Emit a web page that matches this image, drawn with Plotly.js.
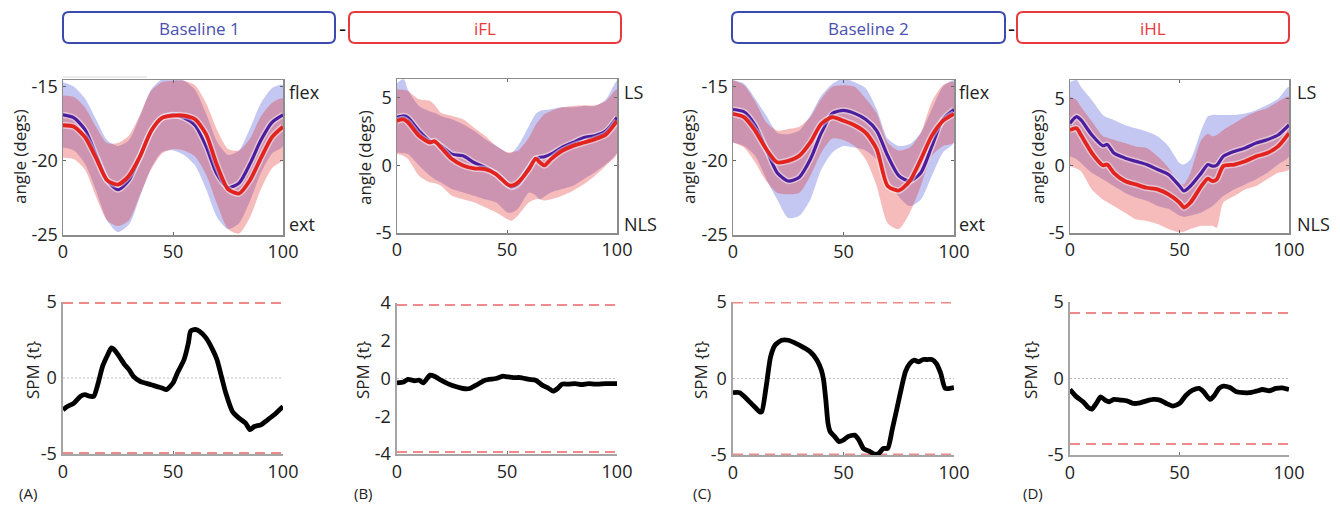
<!DOCTYPE html>
<html><head><meta charset="utf-8">
<script src="https://cdn.plot.ly/plotly-3.0.1.min.js"></script>
<style>html,body{margin:0;padding:0;background:#fff}#chart{width:1340px;height:506px}</style>
</head><body><div id="chart"></div>
<script>
const W = 1340, H = 506;

// ---------- DATA ----------
// Panel A (Baseline 1 vs iFL) knee angle, % gait cycle
const xA = [0,5,10,15,20,25,30,35,40,45,50,55,60,65,70,75,80,85,90,95,100];
const aBlueMean = [-16.9,-17.1,-17.9,-19.6,-21.3,-21.95,-21.3,-19.7,-18.0,-17.1,-16.9,-17.1,-17.6,-19.0,-20.9,-21.8,-21.5,-20.2,-18.6,-17.4,-16.9];
const aRedMean  = [-17.6,-17.7,-18.4,-19.8,-21.3,-21.6,-21.0,-19.7,-18.0,-17.1,-16.95,-16.95,-17.2,-18.2,-20.3,-21.9,-22.2,-21.3,-19.8,-18.4,-17.7];
const aBlueUp   = [-14.7,-15.0,-15.8,-17.2,-18.6,-19.0,-18.6,-17.0,-15.2,-14.5,-14.4,-14.6,-15.2,-16.8,-18.7,-19.6,-19.3,-17.8,-16.1,-15.1,-14.9];
const aBlueLo   = [-19.1,-19.3,-20.2,-22.0,-24.0,-24.8,-24.3,-22.4,-20.5,-19.4,-19.3,-19.6,-20.3,-21.9,-23.8,-24.6,-24.2,-22.7,-20.8,-19.5,-19.0];
const aRedUp    = [-15.6,-15.7,-16.4,-17.7,-18.8,-18.8,-18.3,-16.9,-15.3,-14.7,-14.6,-14.6,-14.9,-16.1,-17.9,-19.2,-19.3,-18.5,-17.0,-16.1,-15.8];
const aRedLo    = [-19.8,-19.9,-20.6,-22.4,-24.0,-24.4,-24.0,-22.3,-20.6,-19.5,-19.2,-19.3,-19.7,-20.9,-22.9,-24.6,-24.9,-23.8,-21.9,-20.5,-19.9];

// Panel B (Baseline 1 vs iFL)
const xB = [0,3,5,10,15,17,20,25,30,35,40,45,50,52,55,60,63,65,67,70,75,80,85,90,95,100];
const bBlueMean = [3.55,3.67,3.55,2.56,1.8,1.75,1.45,0.84,0.71,0.22,-0.15,-0.64,-1.38,-1.6,-1.38,-0.15,0.47,0.6,0.65,0.84,1.33,1.7,2.07,2.2,2.56,3.55];
const bRedMean  = [3.3,3.42,3.2,2.2,1.7,1.8,1.33,0.47,0.0,-0.22,-0.27,-0.64,-1.38,-1.5,-1.26,-0.27,0.5,0.22,0.0,0.47,1.08,1.45,1.7,1.95,2.3,3.3];
const bBlueUp   = [6.1,6.4,5.6,4.4,4.0,3.9,3.67,3.42,3.05,2.56,1.95,1.45,0.96,0.9,1.45,2.93,3.8,4.04,4.1,4.16,4.3,4.3,4.4,4.4,4.9,6.26];
const bBlueLo   = [0.96,0.9,0.84,0.0,-0.76,-1.0,-1.26,-1.75,-2.0,-2.24,-2.5,-2.73,-3.47,-3.5,-3.2,-2.0,-2.2,-2.5,-2.3,-2.0,-1.75,-1.5,-1.0,-0.5,0.1,0.96];
const bRedUp    = [5.64,5.6,5.5,4.9,4.78,4.5,3.9,3.67,3.42,2.8,2.2,1.45,0.96,1.0,1.08,2.07,3.0,3.42,3.8,4.04,4.3,4.4,4.46,4.46,4.78,5.64];
const bRedLo    = [0.84,0.7,0.47,-0.76,-1.26,-1.3,-1.5,-2.24,-2.5,-2.73,-3.1,-3.47,-3.97,-4.1,-3.7,-2.73,-2.5,-2.5,-2.6,-2.5,-2.24,-1.87,-1.38,-0.76,0.0,0.84];

// Panel C (Baseline 2 vs iHL)
const xC = [0,5,10,15,20,25,30,35,40,45,50,55,60,65,70,75,80,85,90,95,100];
const cBlueMean = [-16.54,-16.7,-17.6,-19.2,-20.8,-21.36,-21.1,-19.9,-18.1,-16.8,-16.6,-16.8,-17.2,-17.96,-19.66,-21.0,-21.36,-20.8,-19.0,-17.2,-16.54];
const cRedMean  = [-16.83,-17.05,-17.96,-19.2,-20.1,-20.0,-19.66,-18.76,-17.5,-17.05,-17.3,-17.6,-18.1,-19.2,-21.7,-22.0,-21.36,-19.9,-18.3,-17.3,-16.83];
const cBlueUp   = [-14.57,-14.8,-15.8,-16.95,-18.1,-18.2,-17.96,-16.95,-15.6,-14.8,-14.45,-14.7,-15.1,-16.5,-18.5,-19.0,-18.87,-18.1,-16.5,-15.0,-14.57];
const cBlueLo   = [-18.76,-19.0,-19.66,-21.2,-22.6,-23.85,-23.7,-22.6,-20.57,-19.43,-19.0,-19.1,-19.3,-19.9,-21.2,-22.4,-23.05,-22.6,-21.0,-19.43,-18.76];
const cRedUp    = [-14.57,-14.9,-16.0,-17.4,-17.96,-17.85,-17.7,-17.05,-15.8,-15.0,-14.9,-15.0,-15.8,-16.8,-18.76,-19.3,-19.1,-18.1,-16.0,-14.9,-14.7];
const cRedLo    = [-18.76,-19.1,-20.1,-21.36,-22.15,-22.26,-22.15,-21.0,-19.43,-18.5,-18.6,-19.0,-19.9,-21.7,-24.2,-24.6,-23.5,-21.7,-19.66,-19.0,-18.76];

// Panel D (Baseline 2 vs iHL)
const xD = [0,3,5,10,15,17,20,25,30,35,40,45,50,52,55,60,63,65,67,70,75,80,85,90,95,100];
const dBlueMean = [3.18,3.67,3.42,2.3,1.5,1.6,0.96,0.59,0.34,0.1,-0.27,-0.64,-1.5,-1.87,-1.5,-0.52,0.1,-0.02,0.05,0.71,1.08,1.33,1.7,1.95,2.3,3.05];
const dRedMean  = [2.68,2.8,2.3,0.96,0.05,0.1,-0.52,-1.13,-1.38,-1.63,-1.75,-2.12,-2.73,-3.1,-2.73,-1.5,-0.95,-1.13,-1.0,-0.02,0.1,0.34,0.71,0.96,1.45,2.44];
const dBlueUp   = [6.26,6.4,5.9,4.9,3.8,3.6,3.42,3.05,2.8,2.56,2.2,1.45,0.22,0.1,0.47,2.68,3.7,3.8,3.8,3.8,3.8,3.9,4.16,4.53,5.0,5.9];
const dBlueLo   = [0.71,0.5,0.22,-0.52,-1.0,-1.2,-1.5,-2.0,-2.36,-2.6,-2.98,-3.2,-3.7,-3.8,-3.7,-3.47,-3.2,-2.98,-2.7,-2.24,-1.75,-1.38,-1.0,-0.52,0.1,0.71];
const dRedUp    = [5.15,4.9,4.4,3.3,2.2,2.1,1.95,1.7,1.45,1.33,0.71,-0.15,-1.26,-1.38,-0.52,1.95,2.4,2.2,2.3,2.68,3.18,3.67,4.04,4.3,4.78,5.15];
const dRedLo    = [0.0,-0.2,-0.4,-1.75,-2.5,-2.7,-2.98,-3.47,-3.97,-4.1,-4.33,-4.7,-4.95,-4.9,-4.7,-4.46,-4.46,-4.46,-4.6,-2.73,-2.24,-1.75,-1.5,-1.0,-0.52,-0.27];

// SPM{t} curves
const xSpmA = [0,2,5,8,10,12,14,16,18,20,22,23,25,28,30,32,35,40,45,47,50,52,55,57,58,60,62,65,68,70,72,74,77,80,83,85,87,90,93,96,100];
const spmA  = [-2.09,-1.87,-1.65,-1.2,-1.1,-1.2,-1.2,-0.33,0.77,1.43,1.98,1.9,1.54,0.88,0.55,0.11,-0.22,-0.44,-0.66,-0.77,-0.33,0.33,1.2,2.3,3.08,3.19,3.08,2.64,1.87,1.2,0.11,-0.99,-2.2,-2.64,-2.97,-3.4,-3.19,-3.08,-2.75,-2.42,-1.87];
const xSpmB = [0,3,5,8,10,12,15,17,20,23,27,30,33,36,40,45,48,50,53,56,60,63,66,69,71,73,75,78,81,84,87,90,95,100];
const spmB  = [-0.23,-0.18,-0.05,-0.12,-0.09,-0.23,0.18,0.12,-0.09,-0.27,-0.44,-0.53,-0.53,-0.35,-0.09,0,0.12,0.09,0.05,0.05,-0.05,-0.09,-0.35,-0.53,-0.67,-0.53,-0.3,-0.3,-0.27,-0.32,-0.27,-0.3,-0.27,-0.27];
const xSpmC = [0,3,6,9,12,13,15,17,19,22,25,28,32,35,38,40,41,42,43,44,46,48,50,52,55,57,59,62,64,66,68,70,72,74,76,78,80,82,84,86,88,90,92,94,96,98,100];
const spmC  = [-0.93,-0.93,-1.3,-1.74,-2.17,-2.17,-0.54,1.41,2.17,2.5,2.5,2.33,2.02,1.74,1.2,0.54,-0.11,-1.41,-2.93,-3.48,-3.8,-4.13,-4.02,-3.8,-3.7,-4.02,-4.57,-4.78,-4.95,-4.89,-4.57,-4.57,-3.37,-2.07,-0.76,0.43,0.98,1.2,1.09,1.24,1.24,1.24,0.98,0.33,-0.65,-0.65,-0.6];
const xSpmD = [0,3,6,8,10,12,14,16,18,20,23,26,29,32,35,38,41,44,47,50,53,56,59,61,64,66,68,70,73,76,79,82,85,88,91,94,97,100];
const spmD  = [-0.72,-1.2,-1.52,-1.85,-2.0,-1.63,-1.2,-1.41,-1.52,-1.37,-1.41,-1.46,-1.63,-1.59,-1.46,-1.37,-1.41,-1.63,-1.8,-1.63,-1.09,-0.76,-0.65,-0.87,-1.37,-1.09,-0.65,-0.5,-0.59,-0.87,-0.93,-0.93,-0.83,-0.72,-0.8,-0.65,-0.61,-0.72];

// critical thresholds
const thrA = 4.93, thrB = 3.89, thrC = 4.97, thrD = 4.28;

// tick labels
const xTicks = [0,50,100];
const xTickText = ['0','50','100'];
const kneeTicks = [-25,-20,-15];
const kneeTickText = ['-25','-20','-15'];
const pelTicks = [-5,0,5];
const pelTickText = ['-5','0','5'];
const spmTicks5 = [-5,0,5];
const spmTickText5 = ['-5','0','5'];
const spmTicks4 = [-4,-2,0,2,4];
const spmTickText4 = ['-4','-2','0','2','4'];

const headers = ['Baseline 1','iFL','Baseline 2','iHL'];
const panelLabels = ['(A)','(B)','(C)','(D)'];

// ---------- STYLE ----------
const BLUE_BAND = 'rgba(60,70,210,0.30)';
const RED_BAND  = 'rgba(225,30,30,0.30)';
const BLUE_LINE = '#4a1e9e';
const RED_LINE  = '#e3241e';
const HDR_BLUE = '#3a4aae';
const HDR_RED  = '#e8393c';

const traces = [];
function band(xs, up, lo, color, n) {
  traces.push({x: xs.concat(xs.slice().reverse()), y: up.concat(lo.slice().reverse()),
    mode:'lines', fill:'toself', fillcolor: color, line:{width:0, shape:'spline', smoothing:0.7},
    hoverinfo:'skip', showlegend:false, xaxis:'x'+n, yaxis:'y'+n});
}
function meanLine(xs, ys, color, w, n) {
  traces.push({x: xs, y: ys, mode:'lines', line:{color:'rgba(255,255,255,0.45)', width:w+3, shape:'spline', smoothing:0.7},
    hoverinfo:'skip', showlegend:false, xaxis:'x'+n, yaxis:'y'+n});
  traces.push({x: xs, y: ys, mode:'lines', line:{color:color, width:w, shape:'spline', smoothing:0.7},
    showlegend:false, xaxis:'x'+n, yaxis:'y'+n});
}
function spmPanel(xs, ys, thr, n) {
  traces.push({x:[0,100], y:[0,0], mode:'lines', line:{color:'#bdbdbd', width:1, dash:'2px,2px'}, hoverinfo:'skip', showlegend:false, xaxis:'x'+n, yaxis:'y'+n});
  traces.push({x:[0,100], y:[thr,thr], mode:'lines', line:{color:'#f08a8a', width:2, dash:'10px,6px'}, hoverinfo:'skip', showlegend:false, xaxis:'x'+n, yaxis:'y'+n});
  traces.push({x:[0,100], y:[-thr,-thr], mode:'lines', line:{color:'#f08a8a', width:2, dash:'10px,6px'}, hoverinfo:'skip', showlegend:false, xaxis:'x'+n, yaxis:'y'+n});
  traces.push({x:xs, y:ys, mode:'lines', line:{color:'#000', width:4.8, shape:'spline', smoothing:0.6}, showlegend:false, xaxis:'x'+n, yaxis:'y'+n});
}

// top panels
band(xA, aBlueUp, aBlueLo, BLUE_BAND, ''); band(xA, aRedUp, aRedLo, RED_BAND, '');
meanLine(xA, aBlueMean, BLUE_LINE, 3.2, ''); meanLine(xA, aRedMean, RED_LINE, 3.8, '');
band(xB, bBlueUp, bBlueLo, BLUE_BAND, 2); band(xB, bRedUp, bRedLo, RED_BAND, 2);
meanLine(xB, bBlueMean, BLUE_LINE, 3.2, 2); meanLine(xB, bRedMean, RED_LINE, 3.8, 2);
band(xC, cBlueUp, cBlueLo, BLUE_BAND, 3); band(xC, cRedUp, cRedLo, RED_BAND, 3);
meanLine(xC, cBlueMean, BLUE_LINE, 3.2, 3); meanLine(xC, cRedMean, RED_LINE, 3.8, 3);
band(xD, dBlueUp, dBlueLo, BLUE_BAND, 4); band(xD, dRedUp, dRedLo, RED_BAND, 4);
meanLine(xD, dBlueMean, BLUE_LINE, 3.2, 4); meanLine(xD, dRedMean, RED_LINE, 3.8, 4);
// bottom panels
spmPanel(xSpmA, spmA, thrA, 5);
spmPanel(xSpmB, spmB, thrB, 6);
spmPanel(xSpmC, spmC, thrC, 7);
spmPanel(xSpmD, spmD, thrD, 8);

// ---------- LAYOUT ----------
const FONT = 'Open Sans, Noto Sans, sans-serif';
const tickFont = {family: FONT, size: 18, color: '#222'};
function px2x(p){ return p / W; }
function px2y(p){ return 1 - p / H; }
function dom(x0, x1){ return [px2x(x0), px2x(x1)]; }
function domY(y0, y1){ return [px2y(y1), px2y(y0)]; }

function topX(d, anchor){ return {domain:d, anchor:anchor, range:[0,100], tickmode:'array', tickvals:xTicks, ticktext:xTickText,
  showline:true, linecolor:'#8c8c8c', linewidth:1.5, mirror:'ticks', ticks:'inside', ticklen:3, tickcolor:'#666',
  showgrid:false, zeroline:false, tickfont:tickFont, fixedrange:true}; }
function topY(d, anchor, range, tv, tt){ return {domain:d, anchor:anchor, range:range, tickmode:'array', tickvals:tv, ticktext:tt,
  showline:true, linecolor:'#8c8c8c', linewidth:1.5, mirror:'ticks', ticks:'inside', ticklen:3, tickcolor:'#666',
  showgrid:false, zeroline:false, tickfont:tickFont, fixedrange:true}; }
function botX(d, anchor){ return {domain:d, anchor:anchor, range:[0,100], tickmode:'array', tickvals:xTicks, ticktext:xTickText,
  showline:true, linecolor:'#a5a5a5', linewidth:2, ticks:'inside', ticklen:3, tickcolor:'#777',
  showgrid:false, zeroline:false, tickfont:tickFont, fixedrange:true}; }
function botY(d, anchor, range, tv, tt){ return {domain:d, anchor:anchor, range:range, tickmode:'array', tickvals:tv, ticktext:tt,
  showline:true, linecolor:'#a5a5a5', linewidth:2.5, ticks:'', showgrid:false, zeroline:false, tickfont:tickFont, fixedrange:true}; }

const layout = {
  width: W, height: H, autosize:false, margin:{l:0,r:0,t:0,b:0}, paper_bgcolor:'#fff', plot_bgcolor:'rgba(0,0,0,0)',
  font:{family:FONT, color:'#222'}, showlegend:false,
  xaxis:  topX(dom(63,283), 'y'),   yaxis:  topY(domY(80,235), 'x',  [-25,-14.55], kneeTicks, kneeTickText),
  xaxis2: topX(dom(397,617), 'y2'), yaxis2: topY(domY(79,233), 'x2', [-5,6.4], pelTicks, pelTickText),
  xaxis3: topX(dom(733,954), 'y3'), yaxis3: topY(domY(80,235), 'x3', [-25,-14.55], kneeTicks, kneeTickText),
  xaxis4: topX(dom(1070,1289), 'y4'), yaxis4: topY(domY(80,233), 'x4', [-5,6.4], pelTicks, pelTickText),
  xaxis5: botX(dom(63,283), 'y5'),   yaxis5: botY(domY(302,454), 'x5', [-5,5], spmTicks5, spmTickText5),
  xaxis6: botX(dom(397,617), 'y6'),  yaxis6: botY(domY(303,454), 'x6', [-4,4], spmTicks4, spmTickText4),
  xaxis7: botX(dom(733,954), 'y7'),  yaxis7: botY(domY(302,455), 'x7', [-5,5], spmTicks5, spmTickText5),
  xaxis8: botX(dom(1070,1289), 'y8'), yaxis8: botY(domY(302,455), 'x8', [-5,5], spmTicks5, spmTickText5),
  annotations: [], shapes: []
};

function ann(text, x, y, opt){
  layout.annotations.push(Object.assign({text:text, xref:'paper', yref:'paper', x:px2x(x), y:px2y(y),
    showarrow:false, xanchor:'center', yanchor:'middle', font:{family:FONT, size:16, color:'#222'}}, opt||{}));
}
function roundRect(x0,y0,x1,y1,r,color){
  const P = (a,b) => px2x(a).toFixed(5)+','+px2y(b).toFixed(5);
  const path = 'M'+P(x0+r,y0)+' L'+P(x1-r,y0)+' Q'+P(x1,y0)+' '+P(x1,y0+r)+' L'+P(x1,y1-r)+' Q'+P(x1,y1)+' '+P(x1-r,y1)+
    ' L'+P(x0+r,y1)+' Q'+P(x0,y1)+' '+P(x0,y1-r)+' L'+P(x0,y0+r)+' Q'+P(x0,y0)+' '+P(x0+r,y0)+' Z';
  layout.shapes.push({type:'path', xref:'paper', yref:'paper', path:path, line:{color:color, width:2}, fillcolor:'rgba(0,0,0,0)'});
}

// header boxes
const hdrBlueFont = {family:FONT, size:17, color:'#4a50b0'};
const hdrRedFont = {family:FONT, size:17, color:HDR_RED};
roundRect(63,12,335,43,6,HDR_BLUE);   ann(headers[0], 199, 28, {font:hdrBlueFont});
ann('-', 342, 27, {font:{family:FONT,size:22,color:'#111'}});
roundRect(349,12,621,43,6,HDR_RED);   ann(headers[1], 485, 28, {font:hdrRedFont});
roundRect(732,12,1005,43,6,HDR_BLUE); ann(headers[2], 868, 28, {font:hdrBlueFont});
ann('-', 1011, 27, {font:{family:FONT,size:22,color:'#111'}});
roundRect(1017,12,1289,43,6,HDR_RED); ann(headers[3], 1153, 28, {font:hdrRedFont});

// faint line above panel A
layout.shapes.push({type:'line', xref:'paper', yref:'paper', x0:px2x(63), x1:px2x(147), y0:px2y(77), y1:px2y(77), line:{color:'#e6e6e6', width:1.5}});

// axis titles
const yTitleOpt = {textangle:-90, font:{family:FONT, size:17, color:'#222'}};
ann('angle (degs)', 19, 157, yTitleOpt);
ann('angle (degs)', 364, 157, yTitleOpt);
ann('angle (degs)', 688, 157, yTitleOpt);
ann('angle (degs)', 1037, 157, yTitleOpt);
ann('SPM {t}', 32, 370, yTitleOpt);
ann('SPM {t}', 362, 370, yTitleOpt);
ann('SPM {t}', 700, 370, yTitleOpt);
ann('SPM {t}', 1030, 370, yTitleOpt);

// side labels
const sideOpt = {xanchor:'left', font:{family:FONT, size:18, color:'#222'}};
ann('flex', 287, 92, sideOpt); ann('ext', 287, 224, sideOpt);
ann('LS', 622, 92, sideOpt);   ann('NLS', 622, 224, sideOpt);
ann('flex', 957, 92, sideOpt); ann('ext', 957, 224, sideOpt);
ann('LS', 1295, 92, sideOpt);  ann('NLS', 1295, 224, sideOpt);

// panel letters
const lblOpt = {font:{family:FONT, size:15, color:'#222'}};
ann(panelLabels[0], 28, 493, lblOpt);
ann(panelLabels[1], 363, 493, lblOpt);
ann(panelLabels[2], 702, 493, lblOpt);
ann(panelLabels[3], 1033, 493, lblOpt);

Plotly.newPlot('chart', traces, layout, {displayModeBar:false, staticPlot:true});
</script>
</body></html>
